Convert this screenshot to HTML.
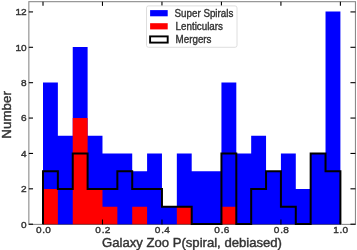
<!DOCTYPE html>
<html><head><meta charset="utf-8"><style>
html,body{margin:0;padding:0;background:#fff;}
body{width:357px;height:250px;overflow:hidden;}
svg{display:block;will-change:transform;font-family:"Liberation Sans",sans-serif;}
</style></head><body>
<svg width="357" height="250" viewBox="0 0 357 250">
<rect width="357" height="250" fill="#fff"/>
<g shape-rendering="auto">
<path d="M43 226 L43 82.48 L57.87 82.48 L57.87 135.7 L72.74 135.7 L72.74 47 L87.61 47 L87.61 135.7 L102.48 135.7 L102.48 153.44 L117.35 153.44 L117.35 153.44 L132.22 153.44 L132.22 171.18 L147.09 171.18 L147.09 153.44 L161.96 153.44 L161.96 206.66 L176.83 206.66 L176.83 153.44 L191.7 153.44 L191.7 171.18 L206.57 171.18 L206.57 171.18 L221.44 171.18 L221.44 82.48 L236.31 82.48 L236.31 153.44 L251.18 153.44 L251.18 135.7 L266.05 135.7 L266.05 171.18 L280.92 171.18 L280.92 153.44 L295.79 153.44 L295.79 188.92 L310.66 188.92 L310.66 153.44 L325.53 153.44 L325.53 11.52 L340.4 11.52 L340.4 226 Z" fill="#0000ff"/>
<path d="M43 226 L43 188.92 L57.87 188.92 L57.87 226 L72.74 226 L72.74 117.96 L87.61 117.96 L87.61 188.92 L102.48 188.92 L102.48 206.66 L117.35 206.66 L117.35 226 L132.22 226 L132.22 206.66 L147.09 206.66 L147.09 226 L161.96 226 L161.96 226 L176.83 226 L176.83 206.66 L191.7 206.66 L191.7 226 L206.57 226 L206.57 226 L221.44 226 L221.44 206.66 L236.31 206.66 L236.31 226 L251.18 226 L251.18 226 L266.05 226 L266.05 226 L280.92 226 L280.92 226 L295.79 226 L295.79 226 L310.66 226 L310.66 226 L325.53 226 L325.53 226 L340.4 226 L340.4 226 Z" fill="#ff0000"/>
</g>
<rect x="0" y="224.5" width="357" height="3" fill="#fff"/>
<path d="M43 224 L43 171.18 L57.87 171.18 L57.87 188.92 L72.74 188.92 L72.74 153.44 L87.61 153.44 L87.61 188.92 L102.48 188.92 L102.48 188.92 L117.35 188.92 L117.35 171.18 L132.22 171.18 L132.22 188.92 L147.09 188.92 L147.09 188.92 L161.96 188.92 L161.96 206.66 L176.83 206.66 L176.83 206.66 L191.7 206.66 L191.7 224 L206.57 224 L206.57 224 L221.44 224 L221.44 153.44 L236.31 153.44 L236.31 224 L251.18 224 L251.18 188.92 L266.05 188.92 L266.05 171.18 L280.92 171.18 L280.92 206.66 L295.79 206.66 L295.79 224 L310.66 224 L310.66 153.44 L325.53 153.44 L325.53 171.18 L340.4 171.18 L340.4 224" fill="none" stroke="#000" stroke-width="2.0" stroke-linejoin="miter"/>
<rect x="28.85" y="1.67" width="326.6" height="222.73" fill="none" stroke="#000" stroke-opacity="0.46" stroke-width="1.1"/>
<g stroke="#000" stroke-width="1.1">
<line x1="43" y1="224.4" x2="43" y2="219.5"/>
<line x1="43" y1="1.67" x2="43" y2="5.87"/>
<line x1="102.48" y1="224.4" x2="102.48" y2="219.5"/>
<line x1="102.48" y1="1.67" x2="102.48" y2="5.87"/>
<line x1="161.96" y1="224.4" x2="161.96" y2="219.5"/>
<line x1="161.96" y1="1.67" x2="161.96" y2="5.87"/>
<line x1="221.44" y1="224.4" x2="221.44" y2="219.5"/>
<line x1="221.44" y1="1.67" x2="221.44" y2="5.87"/>
<line x1="280.92" y1="224.4" x2="280.92" y2="219.5"/>
<line x1="280.92" y1="1.67" x2="280.92" y2="5.87"/>
<line x1="340.4" y1="224.4" x2="340.4" y2="219.5"/>
<line x1="340.4" y1="1.67" x2="340.4" y2="5.87"/>
<line x1="28.85" y1="224.2" x2="33.05" y2="224.2"/>
<line x1="355.45" y1="224.2" x2="350.45" y2="224.2"/>
<line x1="28.85" y1="188.82" x2="33.05" y2="188.82"/>
<line x1="355.45" y1="188.82" x2="350.45" y2="188.82"/>
<line x1="28.85" y1="153.44" x2="33.05" y2="153.44"/>
<line x1="355.45" y1="153.44" x2="350.45" y2="153.44"/>
<line x1="28.85" y1="118.06" x2="33.05" y2="118.06"/>
<line x1="355.45" y1="118.06" x2="350.45" y2="118.06"/>
<line x1="28.85" y1="82.68" x2="33.05" y2="82.68"/>
<line x1="355.45" y1="82.68" x2="350.45" y2="82.68"/>
<line x1="28.85" y1="47.3" x2="33.05" y2="47.3"/>
<line x1="355.45" y1="47.3" x2="350.45" y2="47.3"/>
<line x1="28.85" y1="11.92" x2="33.05" y2="11.92"/>
<line x1="355.45" y1="11.92" x2="350.45" y2="11.92"/>
</g>
<g font-size="9.5" fill="#333" stroke="#333" stroke-width="0.4">
<text transform="translate(43.35 233.0) scale(1.06 1)" text-anchor="middle">0<tspan dx="0.7">.</tspan><tspan dx="0.2">0</tspan></text>
<text transform="translate(102.83 233.0) scale(1.06 1)" text-anchor="middle">0<tspan dx="0.7">.</tspan><tspan dx="0.2">2</tspan></text>
<text transform="translate(162.31 233.0) scale(1.06 1)" text-anchor="middle">0<tspan dx="0.7">.</tspan><tspan dx="0.2">4</tspan></text>
<text transform="translate(221.79 233.0) scale(1.06 1)" text-anchor="middle">0<tspan dx="0.7">.</tspan><tspan dx="0.2">6</tspan></text>
<text transform="translate(281.27 233.0) scale(1.06 1)" text-anchor="middle">0<tspan dx="0.7">.</tspan><tspan dx="0.2">8</tspan></text>
<text transform="translate(340.75 233.0) scale(1.06 1)" text-anchor="middle">1<tspan dx="0.7">.</tspan><tspan dx="0.2">0</tspan></text>
<text transform="translate(26.6 227.5) scale(1.06 1)" text-anchor="end">0</text>
<text transform="translate(26.6 192.12) scale(1.06 1)" text-anchor="end">2</text>
<text transform="translate(26.6 156.74) scale(1.06 1)" text-anchor="end">4</text>
<text transform="translate(26.6 121.36) scale(1.06 1)" text-anchor="end">6</text>
<text transform="translate(26.6 85.98) scale(1.06 1)" text-anchor="end">8</text>
<text transform="translate(26.6 50.6) scale(1.06 1)" text-anchor="end">10</text>
<text transform="translate(26.6 15.22) scale(1.06 1)" text-anchor="end">12</text>
</g>
<text x="192" y="246.7" font-size="12.2" text-anchor="middle" fill="#333" stroke="#333" stroke-width="0.4" textLength="180" lengthAdjust="spacingAndGlyphs">Galaxy Zoo P(spiral, debiased)</text>
<text transform="translate(11.0 114.9) rotate(-90)" font-size="12.2" text-anchor="middle" fill="#333" stroke="#333" stroke-width="0.4" textLength="47.5" lengthAdjust="spacingAndGlyphs">Number</text>
<g>
<rect x="146.5" y="5.9" width="90.5" height="41.4" rx="2" ry="2" fill="#fff" fill-opacity="0.8" stroke="#d6d6d6" stroke-width="0.8"/>
<rect x="150.1" y="10.1" width="17.6" height="6.2" fill="#0000ff"/>
<rect x="150.1" y="23.2" width="17.6" height="6.2" fill="#ff0000"/>
<rect x="150.1" y="36.4" width="17.6" height="6.2" fill="none" stroke="#000" stroke-width="1.9"/>
<g font-size="9.8" fill="#333" stroke="#333" stroke-width="0.35">
<text transform="translate(174.6 16.7) scale(1 1.07)">Super Spirals</text>
<text transform="translate(175.6 29.6) scale(1 1.07)">Lenticulars</text>
<text transform="translate(175.6 42.7) scale(1 1.07)">Mergers</text>
</g>
</g>
</svg>
</body></html>
